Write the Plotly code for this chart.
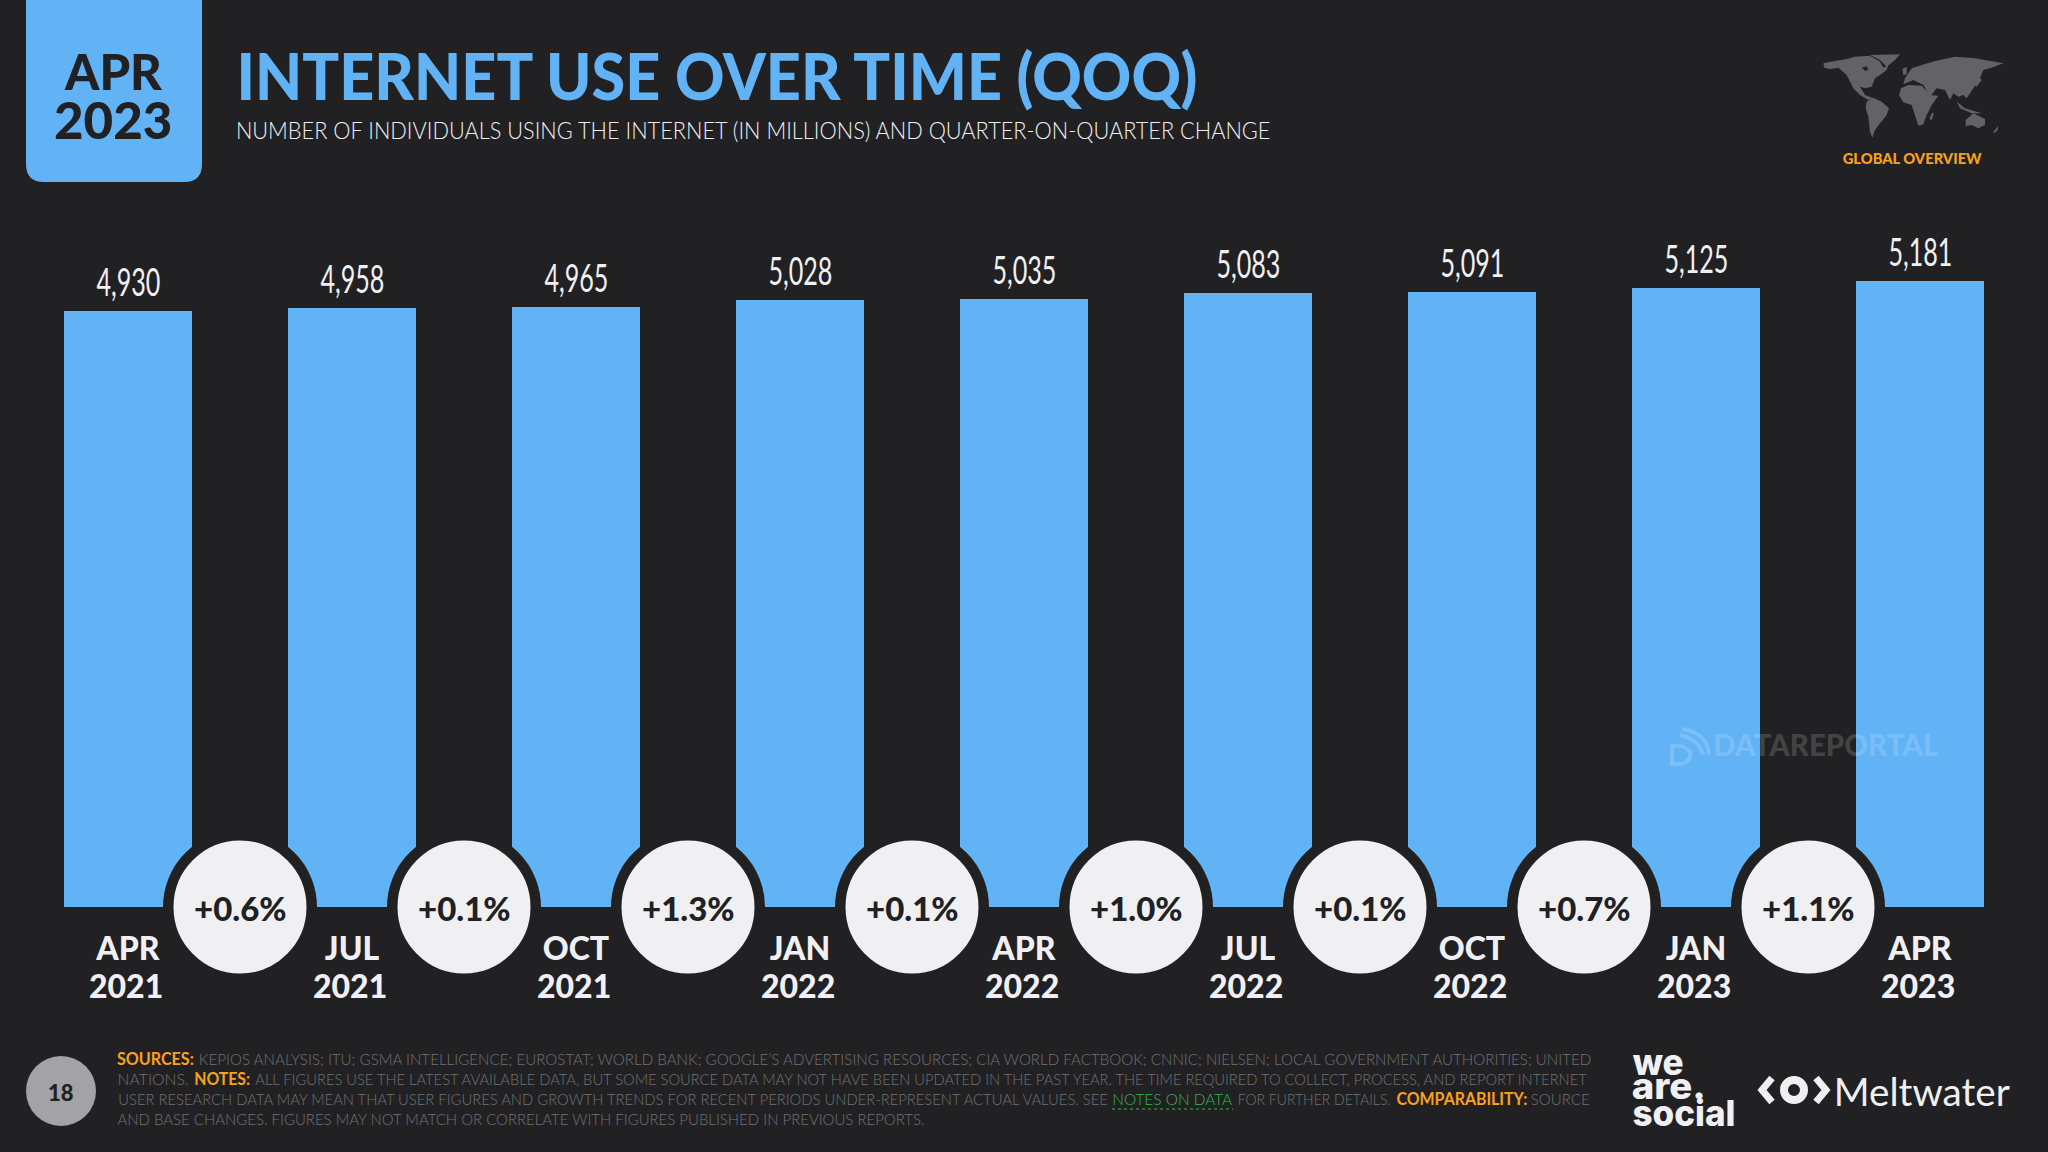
import json
import plotly.graph_objects as go

# chart data
months = ["APR", "JUL", "OCT", "JAN", "APR", "JUL", "OCT", "JAN", "APR"]
years = ["2021", "2021", "2021", "2022", "2022", "2022", "2022", "2023", "2023"]
users = [4930, 4958, 4965, 5028, 5035, 5083, 5091, 5125, 5181]
changes = ["+0.6%", "+0.1%", "+1.3%", "+0.1%", "+1.0%", "+0.1%", "+0.7%", "+1.1%"]

W = 2048
H = 1152
BG = "#212123"
BLUE = "#62B2F6"
LIGHT = "#F0F0F3"
ORANGE = "#F9A11B"
GREEN = "#3CB34A"
GREY = "#727274"
HEAD = "Lato"

# the source face is narrower than anything installed, so text -> width in px
fit = {}

def px(x):
    return x / W

def py(y):
    return 1 - y / H

def label(x, y, text, size, color=LIGHT, font=HEAD, weight=None):
    return dict(xref="paper", yref="paper", x=px(x), y=py(y), text=text, showarrow=False,
                xanchor="center", yanchor="middle", borderpad=0,
                font=dict(family=font, size=size, color=color, weight=weight))

def span(x0, x1, y, text, size, color=LIGHT, font=HEAD, weight=None):
    # text squeezed between two x positions
    fit[text] = x1 - x0
    return label((x0 + x1) / 2, y, text, size, color, font, weight)

def poly(points):
    return "M" + " L".join(f"{px(x)},{py(y)}" for x, y in points) + " Z"

def map_shape(points, fill="#636365"):
    return dict(type="path", xref="paper", yref="paper", line_width=0, fillcolor=fill,
                path=poly([(1815 + x / 3, 45 + y / 3) for x, y in points]))

def stroke(d, width=4, color="rgba(255,255,255,0.17)"):
    return dict(type="path", xref="paper", yref="paper", line=dict(color=color, width=width), path=d)

def q_arc(a, b, c):
    return f"M{px(a[0])},{py(a[1])} Q{px(b[0])},{py(b[1])} {px(c[0])},{py(c[1])}"

xs = list(range(len(users)))
mids = [i + 0.5 for i in range(len(changes))]

fig = go.Figure()
fig.add_trace(go.Bar(x=xs, y=users, width=128 / 224, marker=dict(color=BLUE, line_width=0),
                     hoverinfo="skip"))
fig.add_trace(go.Scatter(x=mids, y=[0] * len(mids), mode="markers", cliponaxis=False, hoverinfo="skip",
                         marker=dict(size=143.5, color=LIGHT, line=dict(color=BG, width=10.5))))

shapes = []
# date badge
shapes.append(dict(type="path", xref="paper", yref="paper", fillcolor=BLUE, line_width=0,
                   path=f"M{px(26)},{py(-5)} L{px(202)},{py(-5)} L{px(202)},{py(164)} "
                        f"Q{px(202)},{py(182)} {px(184)},{py(182)} L{px(44)},{py(182)} "
                        f"Q{px(26)},{py(182)} {px(26)},{py(164)} Z"))
# page number
shapes.append(dict(type="circle", xref="paper", yref="paper", fillcolor="#A3A3A5", line_width=0,
                   x0=px(26), x1=px(96), y0=py(1126), y1=py(1056)))
# world map
shapes.append(map_shape([(25, 55), (60, 48), (95, 42), (120, 35), (165, 32), (195, 50), (205, 68), (220, 60),
                         (215, 75), (195, 90), (180, 100), (170, 125), (150, 130), (135, 125), (150, 150),
                         (175, 160), (160, 165), (135, 150), (115, 130), (95, 90), (70, 68), (45, 72), (28, 68)]))
shapes.append(map_shape([(165, 30), (255, 28), (240, 45), (215, 65), (195, 45)]))
shapes.append(map_shape([(140, 68), (155, 64), (160, 74), (150, 77)], BG))
shapes.append(map_shape([(155, 170), (175, 158), (200, 170), (222, 190), (215, 210), (195, 235), (180, 255),
                         (172, 278), (165, 260), (160, 215), (152, 190)]))
shapes.append(map_shape([(258, 130), (280, 120), (320, 122), (345, 150), (370, 152), (350, 180), (335, 210),
                         (325, 238), (310, 242), (298, 205), (290, 180), (265, 172), (252, 150)]))
shapes.append(map_shape([(270, 100), (290, 70), (320, 60), (360, 48), (420, 35), (480, 40), (565, 55), (530, 68),
                         (505, 75), (495, 100), (475, 130), (455, 160), (445, 150), (430, 155), (415, 145),
                         (405, 165), (390, 135), (365, 130), (345, 155), (325, 120), (295, 105), (265, 118)]))
shapes.append(map_shape([(262, 72), (275, 65), (275, 88), (265, 90)]))
shapes.append(map_shape([(452, 225), (475, 205), (510, 222), (510, 240), (490, 250), (470, 240), (452, 243)]))
shapes.append(map_shape([(425, 170), (450, 190), (500, 205), (470, 205), (435, 190)]))
shapes.append(map_shape([(490, 95), (500, 105), (485, 125), (478, 120)]))
shapes.append(map_shape([(350, 205), (357, 203), (350, 225), (343, 222)]))
shapes.append(map_shape([(535, 260), (550, 243), (548, 255), (537, 265)]))
# notes on data underline
shapes.append(dict(type="line", xref="paper", yref="paper", x0=px(1112), x1=px(1233), y0=py(1109),
                   y1=py(1109), line=dict(color=GREEN, width=1, dash="dot")))
# meltwater icon
shapes.append(dict(type="circle", xref="paper", yref="paper", fillcolor="rgba(0,0,0,0)",
                   line=dict(color=LIGHT, width=8), x0=px(1784), x1=px(1804), y0=py(1100), y1=py(1080)))
shapes.append(stroke(f"M{px(1772)},{py(1078)} L{px(1762)},{py(1090)} L{px(1772)},{py(1102)}", 7, LIGHT))
shapes.append(stroke(f"M{px(1816)},{py(1078)} L{px(1826)},{py(1090)} L{px(1816)},{py(1102)}", 7, LIGHT))
# watermark icon
shapes.append(stroke(q_arc((1680, 735), (1700, 740), (1703, 755))))
shapes.append(stroke(q_arc((1682, 729), (1708, 733), (1709, 755))))
shapes.append(stroke(f"M{px(1672)},{py(746)} L{px(1672)},{py(764)} L{px(1682)},{py(764)} "
                     f"Q{px(1692)},{py(760)} {px(1690)},{py(752)} Q{px(1685)},{py(745)} {px(1672)},{py(746)} Z"))

notes = []
# value labels sit on the bars
for i, v in enumerate(users):
    fit[f"{v:,}"] = 64
    notes.append(dict(x=i, y=v, xref="x", yref="y", text=f"{v:,}", showarrow=False, yanchor="bottom",
                      yshift=5, font=dict(family="Lato", size=38, color=LIGHT)))
# percentages in the circles
for m, c in zip(mids, changes):
    notes.append(dict(x=m, y=0, xref="x", yref="y", text=c, showarrow=False, yanchor="middle", yshift=-1,
                      font=dict(family=HEAD, size=33, color="#212123", weight=900)))
# second row of the axis labels
for i, yr in enumerate(years):
    notes.append(dict(x=i, xref="x", yref="paper", y=py(985), xshift=-2, text=yr, showarrow=False,
                      yanchor="middle", font=dict(family=HEAD, size=32, color=LIGHT, weight=900)))

notes.append(label(113, 71, "APR", 49, "#212123", weight=900))
notes.append(label(113, 120, "2023", 51, "#212123", weight=900))
notes.append(span(236, 1197, 76, "INTERNET USE OVER TIME (QOQ)", 64, BLUE, weight=900))
notes.append(span(235, 1270, 130, "NUMBER OF INDIVIDUALS USING THE INTERNET (IN MILLIONS) AND QUARTER-ON-QUARTER CHANGE",
                  23, LIGHT, weight=300))
notes.append(span(1843, 1982, 158, "GLOBAL OVERVIEW", 15.5, ORANGE, weight=900))
notes.append(label(61, 1092, "18", 22, "#212123", weight=900))

# footer pieces: x0, x1, y, text, colour, weight
foot = [
    (117, 194, 1059, "SOURCES:", ORANGE, 700),
    (198, 1591, 1059, "KEPIOS ANALYSIS; ITU; GSMA INTELLIGENCE; EUROSTAT; WORLD BANK; GOOGLE’S ADVERTISING RESOURCES; CIA WORLD FACTBOOK; CNNIC; NIELSEN; LOCAL GOVERNMENT AUTHORITIES; UNITED", GREY, 300),
    (117, 188, 1079, "NATIONS.", GREY, 300),
    (194, 250, 1079, "NOTES:", ORANGE, 700),
    (255, 1587, 1079, "ALL FIGURES USE THE LATEST AVAILABLE DATA, BUT SOME SOURCE DATA MAY NOT HAVE BEEN UPDATED IN THE PAST YEAR. THE TIME REQUIRED TO COLLECT, PROCESS, AND REPORT INTERNET", GREY, 300),
    (117, 1108, 1099, "USER RESEARCH DATA MAY MEAN THAT USER FIGURES AND GROWTH TRENDS FOR RECENT PERIODS UNDER-REPRESENT ACTUAL VALUES. SEE", GREY, 300),
    (1112, 1232, 1099, "NOTES ON DATA", GREEN, 300),
    (1237, 1390, 1099, "FOR FURTHER DETAILS.", GREY, 300),
    (1396, 1527, 1099, "COMPARABILITY:", ORANGE, 700),
    (1531, 1590, 1099, "SOURCE", GREY, 300),
    (117, 924, 1119, "AND BASE CHANGES. FIGURES MAY NOT MATCH OR CORRELATE WITH FIGURES PUBLISHED IN PREVIOUS REPORTS.", GREY, 300),
]
for x0, x1, y, text, color, weight in foot:
    notes.append(span(x0, x1, y, text, 16.5, color, weight=weight))

notes.append(span(1632, 1683, 1062, "we", 36, LIGHT, font="Inter", weight=800))
notes.append(span(1632, 1706, 1086, "are.", 36, LIGHT, font="Inter", weight=800))
notes.append(span(1632, 1735, 1113, "social", 36, LIGHT, font="Inter", weight=800))
notes.append(span(1834, 2010, 1091, "Meltwater", 39, LIGHT, font="Lato"))
notes.append(span(1713, 1938, 744, "DATAREPORTAL", 30, "rgba(255,255,255,0.17)", weight=900))

fig.update_layout(
    width=W, height=H, autosize=False, showlegend=False, bargap=0,
    paper_bgcolor=BG, plot_bgcolor="rgba(0,0,0,0)",
    margin=dict(l=0, r=0, t=0, b=0, autoexpand=False),
    shapes=shapes, annotations=notes,
    xaxis=dict(range=[-128 / 224, (W - 128) / 224], tickvals=xs, ticktext=months, ticklen=0,
               showgrid=False, zeroline=False, showline=False, ticklabelstandoff=20,
               tickfont=dict(family=HEAD, size=32, color=LIGHT, weight=900)),
    yaxis=dict(domain=[(H - 907) / H, 1], range=[0, 907 / 0.1208], visible=False),
)

script = """
document.body.style.margin = '0';
var fit = %s;
document.querySelectorAll('text.annotation-text').forEach(function (t) {
  var w = fit[t.textContent];
  if (!w) return;
  var sx = w / t.getComputedTextLength();
  var cx = parseFloat(t.getAttribute('x'));
  t.setAttribute('transform', 'translate(' + cx + ',0) scale(' + sx + ',1) translate(' + (-cx) + ',0)');
  var r = t.parentNode.querySelector('rect');
  if (r) {
    var mid = parseFloat(r.getAttribute('x')) + parseFloat(r.getAttribute('width')) / 2;
    r.setAttribute('x', mid - w / 2);
    r.setAttribute('width', w);
  }
});
""" % json.dumps(fit)

fig.write_html("out.html", config=dict(displayModeBar=False), post_script=script)
